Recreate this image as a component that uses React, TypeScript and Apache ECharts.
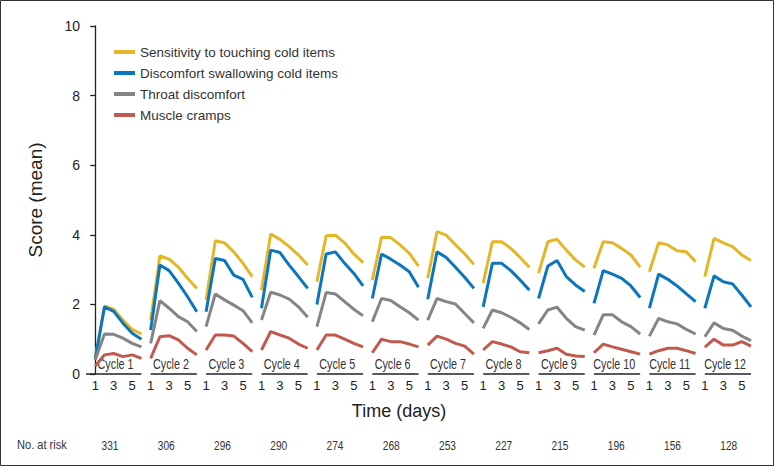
import React, { useEffect, useRef } from "react";
import * as echarts from "echarts";

const cycles = ["Cycle 1", "Cycle 2", "Cycle 3", "Cycle 4", "Cycle 5", "Cycle 6", "Cycle 7", "Cycle 8", "Cycle 9", "Cycle 10", "Cycle 11", "Cycle 12"];
const days = [1, 2, 3, 4, 5, 6];
const dayTickLabels = [1, 3, 5];
const atRisk = [331, 306, 296, 290, 274, 268, 253, 227, 215, 196, 156, 128];
const yTicks = [0, 2, 4, 6, 8, 10];

const seriesNames = [
  "Sensitivity to touching cold items",
  "Discomfort swallowing cold items",
  "Throat discomfort",
  "Muscle cramps",
];
const seriesColors = ["#E5B628", "#0B76BE", "#858585", "#C05A4E"];

const sensitivity = [
  [0.45, 1.95, 1.86, 1.55, 1.28, 1.15],
  [1.55, 3.39, 3.30, 3.07, 2.75, 2.46],
  [2.13, 3.83, 3.77, 3.51, 3.18, 2.80],
  [2.41, 4.02, 3.87, 3.66, 3.42, 3.13],
  [2.65, 3.97, 3.99, 3.77, 3.45, 3.20],
  [2.70, 3.93, 3.92, 3.71, 3.47, 3.10],
  [2.75, 4.09, 3.99, 3.71, 3.45, 3.15],
  [2.61, 3.80, 3.80, 3.61, 3.35, 3.07],
  [2.90, 3.80, 3.87, 3.56, 3.28, 3.07],
  [3.04, 3.80, 3.77, 3.61, 3.42, 3.07],
  [2.94, 3.77, 3.71, 3.54, 3.51, 3.23],
  [2.80, 3.90, 3.77, 3.66, 3.42, 3.26],
];
const swallowing = [
  [0.42, 1.93, 1.80, 1.46, 1.17, 1.00],
  [1.26, 3.13, 2.97, 2.61, 2.22, 1.79],
  [1.79, 3.32, 3.26, 2.84, 2.72, 2.20],
  [1.89, 3.56, 3.49, 3.13, 2.80, 2.46],
  [2.00, 3.45, 3.51, 3.18, 2.89, 2.53],
  [2.17, 3.45, 3.30, 3.13, 2.94, 2.49],
  [2.15, 3.51, 3.35, 3.07, 2.78, 2.46],
  [1.93, 3.18, 3.18, 2.97, 2.70, 2.41],
  [2.17, 3.10, 3.26, 2.80, 2.56, 2.37],
  [2.03, 2.97, 2.87, 2.75, 2.53, 2.20],
  [1.89, 2.87, 2.72, 2.53, 2.30, 2.08],
  [1.89, 2.82, 2.65, 2.59, 2.27, 1.93],
];
const throat = [
  [0.40, 1.15, 1.14, 1.03, 0.88, 0.78],
  [0.88, 2.11, 1.89, 1.65, 1.50, 1.22],
  [1.36, 2.30, 2.13, 1.98, 1.82, 1.47],
  [1.55, 2.35, 2.27, 2.15, 1.93, 1.63],
  [1.36, 2.34, 2.30, 2.08, 1.86, 1.67],
  [1.50, 2.17, 2.11, 1.93, 1.76, 1.55],
  [1.55, 2.17, 2.08, 2.01, 1.74, 1.47],
  [1.31, 1.84, 1.76, 1.63, 1.47, 1.28],
  [1.44, 1.84, 1.92, 1.60, 1.36, 1.26],
  [1.12, 1.70, 1.70, 1.50, 1.36, 1.15],
  [1.09, 1.60, 1.50, 1.44, 1.28, 1.15],
  [1.07, 1.47, 1.31, 1.26, 1.09, 0.96],
];
const cramps = [
  [0.23, 0.55, 0.59, 0.50, 0.55, 0.45],
  [0.45, 1.07, 1.10, 0.98, 0.74, 0.55],
  [0.69, 1.12, 1.12, 1.09, 0.88, 0.64],
  [0.69, 1.22, 1.12, 1.03, 0.86, 0.74],
  [0.69, 1.12, 1.12, 1.00, 0.88, 0.78],
  [0.61, 1.00, 0.93, 0.93, 0.86, 0.78],
  [0.83, 1.09, 1.00, 0.88, 0.80, 0.57],
  [0.69, 0.93, 0.86, 0.78, 0.64, 0.61],
  [0.61, 0.67, 0.74, 0.57, 0.52, 0.50],
  [0.61, 0.86, 0.78, 0.71, 0.64, 0.57],
  [0.57, 0.67, 0.74, 0.74, 0.67, 0.59],
  [0.77, 1.00, 0.83, 0.83, 0.93, 0.80],
];

const REG = '"Liberation Sans", Arial, Helvetica, sans-serif';
const DAYS_PER_CYCLE = days.length;

function xOf(cycle: number, day: number) {
  return cycle * DAYS_PER_CYCLE + (day - 1);
}

function buildData(values: number[][]) {
  const out: any[] = [];
  values.forEach((row, c) => {
    row.forEach((v, i) => out.push([xOf(c, days[i]), v]));
    out.push([xOf(c, days[days.length - 1]) + 0.5, null]);
  });
  return out;
}

function narrowText(text: string, x: number, y: number, fontSize: number, align: string, scaleX: number) {
  return {
    type: "text",
    x,
    y,
    scaleX,
    style: {
      text,
      x: 0,
      y: 0,
      align,
      verticalAlign: "middle",
      fontSize,
      fontFamily: REG,
      fill: "#333",
    },
  };
}

export default function App() {
  const ref = useRef<HTMLDivElement>(null);
  useEffect(() => {
    if (!ref.current) return;
    const chart = echarts.init(ref.current, undefined, { renderer: "svg" });
    const allValues = [sensitivity, swallowing, throat, cramps];
    const lineSeries = allValues.map((vals, k) => ({
      name: seriesNames[k],
      type: "line",
      data: buildData(vals),
      showSymbol: false,
      symbol: "none",
      connectNulls: false,
      color: seriesColors[k],
      itemStyle: { color: seriesColors[k] },
      lineStyle: { color: seriesColors[k], width: 3 },
      z: 3,
    }));

    const cycleSeries = {
      type: "custom",
      clip: false,
      silent: true,
      z: 2,
      data: cycles.map((_, i) => [xOf(i, 1), 0, i]),
      encode: { x: 0, y: 1 },
      renderItem: (params: any, api: any) => {
        const c = api.value(2);
        const start = api.coord([c === 0 ? -1 : xOf(c, days[0]), 0]);
        const end = api.coord([xOf(c, days[days.length - 1]), 0]);
        const mid = api.coord([xOf(c, 1) + 2.2, 0]);
        const riskPos = api.coord([xOf(c, 1) + 1.6 + 0.09 * c, 0]);
        return {
          type: "group",
          children: [
            {
              type: "line",
              shape: { x1: start[0], y1: start[1], x2: end[0], y2: end[1] },
              style: { stroke: "#222", lineWidth: 1.5 },
            },
            narrowText(cycles[c], mid[0], start[1] - 10, 15, "center", 0.72),
            narrowText(String(atRisk[c]), riskPos[0], 445, 13, "center", 0.78),
          ],
        };
      },
    };

    chart.setOption({
      animation: false,
      backgroundColor: "#fff",
      grid: { left: 86, top: 26, width: 665, height: 348, containLabel: false },
      legend: {
        data: seriesNames,
        orient: "vertical",
        left: 114,
        top: 45,
        icon: "rect",
        itemWidth: 21,
        itemHeight: 4,
        itemGap: 7,
        padding: 0,
        textStyle: { fontSize: 13.5, fontFamily: REG, color: "#333", lineHeight: 14 },
      },
      xAxis: {
        type: "value",
        min: -1,
        max: xOf(cycles.length - 1, days[days.length - 1]),
        interval: 1,
        axisLine: { show: false },
        axisTick: { show: false },
        splitLine: { show: false },
        axisLabel: {
          margin: 5,
          fontSize: 13,
          fontFamily: REG,
          color: "#222",
          showMinLabel: true,
          showMaxLabel: true,
          formatter: (v: number) => {
            if (v < 0) return "";
            const d = (Math.round(v) % DAYS_PER_CYCLE) + 1;
            return dayTickLabels.indexOf(d) >= 0 ? String(d) : "";
          },
        },
      },
      yAxis: {
        type: "value",
        min: yTicks[0],
        max: yTicks[yTicks.length - 1],
        interval: 2,
        name: "Score (mean)",
        nameLocation: "middle",
        nameGap: 41,
        nameRotate: 90,
        nameTextStyle: { fontSize: 19, fontFamily: REG, color: "#222" },
        axisLine: { show: true, lineStyle: { color: "#222", width: 1.3 } },
        axisTick: { show: true, length: 5, lineStyle: { color: "#222", width: 1.3 } },
        splitLine: { show: false },
        axisLabel: { margin: 6, fontSize: 14, fontFamily: REG, color: "#222" },
      },
      graphic: [
        {
          type: "rect",
          shape: { x: 0.5, y: 0.5, width: 773, height: 465 },
          style: { fill: "none", stroke: "#333", lineWidth: 1 },
          silent: true,
        },
        {
          type: "text",
          x: 399,
          y: 411,
          style: {
            text: "Time (days)",
            align: "center",
            verticalAlign: "middle",
            fontSize: 18,
            fontFamily: REG,
            fill: "#222",
          },
        },
        narrowText("No. at risk", 17, 445, 13.5, "left", 0.82),
      ],
      series: [...lineSeries, cycleSeries],
    });
    return () => chart.dispose();
  }, []);
  return (
    <div
      ref={ref}
      style={{ position: "fixed", left: 0, top: 0, width: 775, height: 466 }}
    />
  );
}
